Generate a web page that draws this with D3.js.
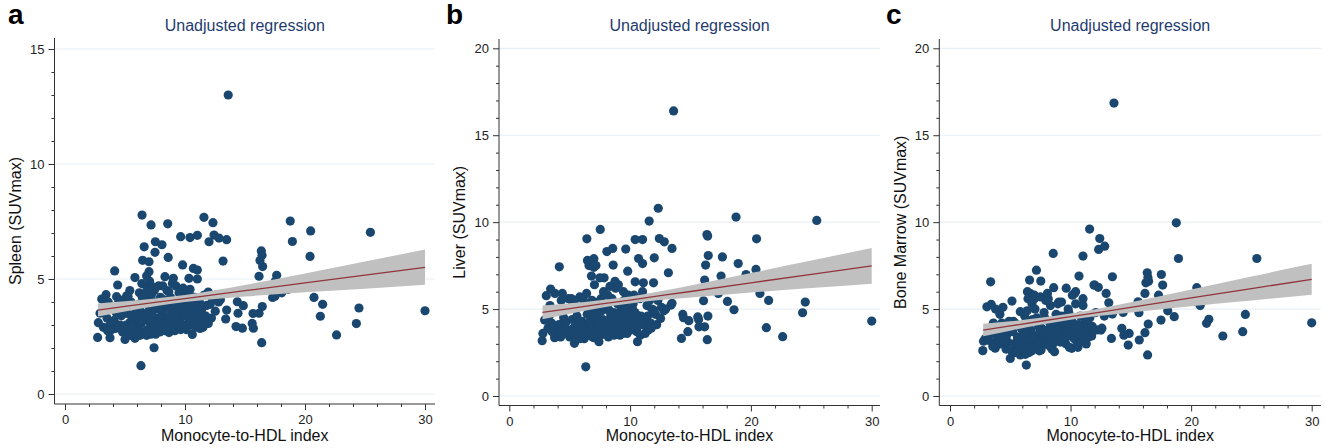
<!DOCTYPE html>
<html>
<head>
<meta charset="utf-8">
<script src="https://cdn.jsdelivr.net/npm/d3@7"></script>
<style>
  html, body { margin: 0; padding: 0; background: #fff; }
  svg { display: block; font-family: "Liberation Sans", Arial, Helvetica, sans-serif; }
</style>
</head>
<body>
<svg id="chart" width="1325" height="448"></svg>
<script>
// ---- data ----
// monocyte-to-HDL index (same patients in all three panels)
const mhrIndex = [
  13.6, 30.0, 25.45, 24.5, 24.28, 22.63, 21.47, 21.28, 20.47, 20.42,
  20.75, 19.6, 18.77, 18.95, 18.06, 18.6, 17.64, 17.53, 17.3, 17.5,
  16.36, 16.42, 16.25, 16.47, 16.17, 16.44, 16.17, 16.39, 16.08, 15.6,
  15.7, 15.67, 14.25, 14.78, 14.36, 14.86, 14.42, 13.47, 13.39, 13.17,
  13.47, 12.83, 12.42, 12.0, 11.58, 12.33, 11.03, 10.42, 9.64, 12.95,
  2.72, 2.78, 2.92, 3.06, 3.42, 3.2, 3.3, 3.5, 3.75, 3.75, 3.6, 3.78, 3.37, 3.9,
  4.14, 4.39, 4.3, 4.1, 4.2, 4.5, 4.6, 4.7, 4.8, 4.4, 4.9, 4.55,
  5.0, 5.14, 5.39, 5.2, 5.3, 5.5, 5.6, 5.7, 5.83, 5.83, 5.9, 5.4, 5.6, 5.95, 5.25,
  6.0, 6.1, 6.2, 6.33, 6.42, 6.47, 6.6, 6.3, 6.4, 6.5, 6.55, 6.7, 6.8, 6.75, 6.9, 6.85, 6.15, 6.65, 6.25, 6.95,
  7.0, 7.0, 7.17, 7.53, 7.5, 7.42, 7.1, 7.2, 7.3, 7.4, 7.6, 7.7, 7.8, 7.9, 7.25, 7.65, 7.85, 7.05, 7.45, 7.95,
  8.08, 8.56, 8.6, 8.33, 8.67, 8.1, 8.2, 8.3, 8.4, 8.5, 8.7, 8.8, 8.9, 8.45, 8.15, 8.75, 8.95, 8.25,
  9.03, 9.8, 9.1, 9.2, 9.3, 9.4, 9.5, 9.6, 9.7, 9.9, 9.25, 9.45, 9.75, 9.15, 9.55, 9.85,
  10.0, 10.1, 10.2, 10.33, 10.42, 10.44, 10.61, 10.7, 10.75, 10.8, 10.9, 11.03, 11.03, 10.55, 10.25, 10.85, 10.15,
  11.1, 11.2, 11.3, 11.4, 11.6, 11.94, 11.94, 11.7, 11.8, 11.5,
  12.1, 12.3, 12.52, 12.6, 12.8, 12.2,
  5.1, 5.45, 5.75, 6.05, 6.35, 6.6, 6.8, 7.15, 7.35, 7.55, 7.75, 8.0, 8.35, 8.55, 8.85, 9.05, 9.35, 9.65, 9.95, 10.05,
  10.3, 10.5, 10.65, 10.95, 11.25, 11.45, 11.75, 4.25, 4.65, 3.55, 5.55, 6.45, 7.35, 8.65, 9.2, 9.6, 10.4, 6.2, 7.0, 8.2
];

// spleen SUVmax
const spleen = [
  13.0, 3.62, 7.03, 3.74, 3.06, 2.57, 3.9, 3.38, 7.09, 5.98,
  4.2, 4.75, 7.52, 6.63, 4.4, 4.55, 5.16, 4.91, 4.2, 4.25,
  6.22, 6.03, 5.8, 5.54, 5.12, 3.8, 3.51, 2.23, 4.5, 3.07,
  2.86, 3.5, 2.93, 2.86, 4.01, 3.84, 3.51, 3.65, 3.26, 5.78,
  6.71, 6.78, 6.91, 6.62, 7.68, 7.45, 6.9, 6.8, 6.84, 4.1,
  2.46, 3.1, 3.51, 4.13, 4.32, 2.9, 3.7, 3.3, 2.45, 3.0, 4.0, 3.8, 3.9, 2.8,
  5.35, 4.74, 4.23, 3.2, 2.85, 3.6, 3.0, 3.4, 2.7, 3.9, 4.1, 2.95,
  2.37, 4.27, 3.1, 3.5, 2.8, 4.0, 3.3, 2.6, 5.06, 2.42, 3.7, 4.5, 3.9, 3.0, 4.25,
  3.4, 2.9, 4.4, 1.23, 7.78, 5.81, 6.4, 3.6, 4.8, 3.2, 2.7, 4.1, 5.13, 3.5, 2.8, 4.6, 3.9, 4.35, 2.55, 3.85,
  5.32, 5.75, 7.35, 6.62, 6.16, 2.01, 3.1, 4.3, 3.6, 2.9, 4.0, 3.3, 4.7, 2.7, 3.95, 3.0, 3.7, 4.9, 4.5, 4.2,
  6.49, 7.4, 5.94, 5.1, 2.67, 3.5, 4.1, 2.9, 3.8, 4.5, 3.2, 4.2, 3.6, 3.05, 4.7, 3.9, 4.8, 3.4,
  5.03, 5.61, 3.1, 4.0, 3.5, 2.9, 4.4, 3.3, 3.8, 3.0, 4.7, 3.65, 4.2, 2.75, 3.2, 4.6,
  3.4, 2.8, 4.1, 5.03, 4.55, 3.6, 2.59, 5.46, 3.2, 4.2, 3.8, 5.39, 5.0, 3.0, 3.7, 2.9, 4.4,
  3.5, 4.0, 3.1, 3.7, 4.3, 4.43, 3.07, 3.4, 3.85, 2.9,
  3.9, 4.1, 3.6, 4.3, 4.0, 3.3,
  3.0, 2.55, 3.45, 2.65, 3.05, 3.3, 2.55, 2.6, 3.25, 2.6, 3.9, 3.1, 2.75, 3.35, 2.95, 3.7, 3.15, 2.8, 3.55, 3.9,
  3.1, 3.35, 3.9, 3.3, 2.85, 3.3, 3.05, 3.55, 3.75, 2.75, 2.95, 4.2, 4.65, 4.45, 3.3, 4.05, 4.3, 3.15, 3.45, 3.65
];

// liver SUVmax
const liver = [
  16.4, 4.31, 10.1, 5.4, 4.79, 3.41, 5.5, 3.93, 9.04, 7.28,
  5.9, 6.99, 10.29, 7.62, 5.44, 4.96, 8.0, 6.9, 5.9, 6.2,
  9.29, 9.2, 7.53, 8.08, 6.67, 4.6, 3.98, 3.24, 5.48, 4.55,
  3.98, 4.4, 3.31, 3.7, 4.69, 4.33, 4.5, 5.33, 5.23, 7.09,
  8.49, 8.87, 9.06, 7.95, 10.06, 10.8, 9.0, 9.0, 8.45, 5.0,
  3.18, 3.6, 4.37, 5.77, 6.15, 3.9, 4.6, 4.2, 3.35, 3.55, 4.9, 5.9, 5.2, 3.8,
  7.43, 5.9, 5.5, 4.1, 3.7, 4.5, 4.0, 3.8, 3.6, 4.8, 5.6, 4.3,
  3.4, 5.6, 3.03, 4.4, 3.9, 5.0, 4.6, 3.5, 5.7, 3.3, 4.2, 5.5, 4.0, 3.9, 5.3,
  4.3, 3.6, 5.2, 1.68, 9.04, 7.8, 7.5, 4.0, 5.9, 3.8, 3.5, 4.6, 6.9, 4.4, 3.4, 5.5, 5.5, 7.7, 3.5, 4.9,
  7.9, 7.4, 7.5, 9.58, 6.8, 3.12, 4.1, 5.1, 4.5, 3.7, 5.6, 4.2, 6.0, 3.6, 4.7, 4.9, 6.8, 6.4, 4.2, 5.2,
  8.31, 8.49, 7.53, 6.3, 3.5, 4.3, 5.0, 3.9, 4.6, 5.6, 4.0, 6.2, 4.5, 3.8, 5.8, 6.6, 5.3, 4.9,
  6.4, 7.18, 4.0, 4.8, 4.3, 3.6, 5.5, 4.2, 4.7, 3.9, 5.1, 6.0, 3.6, 3.5, 5.2, 5.8,
  4.4, 3.9, 5.0, 5.8, 6.57, 4.0, 3.12, 7.91, 4.2, 5.6, 4.6, 7.62, 6.0, 3.7, 5.3, 3.5, 5.5,
  6.51, 4.4, 4.0, 5.2, 5.5, 6.51, 4.94, 4.2, 5.0, 3.8,
  4.7, 5.5, 4.46, 5.1, 4.9, 4.1,
  3.7, 3.6, 4.3, 3.9, 4.1, 4.2, 3.6, 3.9, 4.0, 3.5, 4.4, 3.9, 4.1, 4.3, 3.7, 4.6, 3.9, 4.0, 4.5, 3.8,
  4.3, 4.7, 4.0, 4.2, 3.6, 4.6, 3.9, 3.4, 4.2, 3.7, 3.3, 4.7, 5.4, 4.8, 4.5, 5.0, 4.8, 3.3, 3.35, 3.4
];

// bone marrow SUVmax
const marrow = [
  16.85, 4.21, 7.91, 4.69, 3.7, 3.45, 4.41, 4.18, 6.23, 5.42,
  5.2, 5.55, 9.96, 7.91, 4.9, 4.56, 6.38, 6.99, 5.8, 4.37,
  7.09, 6.82, 6.51, 6.6, 5.9, 4.14, 3.64, 2.36, 5.2, 5.42,
  3.22, 4.79, 3.89, 2.93, 4.81, 3.6, 3.5, 4.71, 3.31, 5.36,
  6.86, 8.62, 9.06, 6.38, 9.6, 8.43, 8.05, 6.0, 6.2, 5.9,
  2.61, 3.15, 3.3, 5.13, 5.27, 3.2, 3.9, 3.6, 2.75, 3.05, 4.2, 5.0, 6.57, 3.3,
  4.7, 5.1, 4.2, 3.4, 3.0, 3.8, 2.9, 3.5, 3.1, 4.0, 4.3, 3.25,
  2.16, 5.46, 2.5, 3.7, 3.0, 4.1, 3.4, 2.8, 4.85, 2.36, 3.9, 4.2, 3.2, 3.3, 4.3,
  3.5, 2.7, 4.6, 1.78, 6.0, 5.6, 6.67, 2.9, 4.9, 3.2, 2.5, 3.8, 5.3, 3.6, 2.9, 4.4, 4.0, 5.9, 2.4, 3.4,
  5.8, 5.6, 7.24, 6.61, 5.7, 2.6, 3.0, 4.5, 3.5, 2.8, 3.9, 3.3, 4.8, 3.1, 4.2, 2.9, 4.5, 5.0, 3.7, 5.5,
  5.9, 8.2, 6.23, 5.2, 2.55, 3.4, 4.3, 3.0, 3.8, 4.0, 3.5, 4.7, 3.2, 2.7, 5.6, 4.4, 5.3, 3.9,
  5.4, 5.0, 3.3, 4.1, 3.6, 3.9, 4.6, 3.0, 4.3, 2.8, 5.4, 4.0, 3.7, 3.1, 3.6, 4.8,
  3.5, 2.74, 4.2, 5.9, 5.3, 3.8, 2.8, 6.9, 3.9, 4.6, 3.4, 5.6, 5.2, 3.0, 4.0, 3.2, 5.8,
  3.9, 4.3, 2.99, 4.1, 4.5, 6.38, 3.8, 3.7, 4.0, 3.4,
  4.8, 6.25, 3.79, 3.9, 4.6, 3.8,
  2.6, 2.9, 3.1, 3.0, 3.3, 2.75, 2.6, 3.2, 3.05, 2.65, 3.6, 3.6, 3.3, 3.0, 3.7, 3.45, 3.25, 4.1, 3.85, 4.4,
  3.3, 3.6, 4.1, 3.6, 3.1, 3.55, 3.45, 3.2, 2.7, 2.85, 2.55, 4.3, 4.0, 4.2, 4.6, 3.35, 3.95, 3.6, 3.3, 2.9
];

// fitted line and 95% CI read at these x positions
const fitX = [2.75, 5, 7.5, 10, 12.5, 15, 20, 25, 30];
const spleenFit = [3.65, 3.81, 3.98, 4.15, 4.32, 4.49, 4.83, 5.17, 5.51];
const spleenLo  = [3.37, 3.59, 3.81, 4.00, 4.13, 4.24, 4.42, 4.58, 4.75];
const spleenHi  = [3.94, 4.03, 4.15, 4.30, 4.51, 4.74, 5.24, 5.76, 6.28];
const liverFit  = [4.81, 5.03, 5.28, 5.52, 5.77, 6.01, 6.51, 7.00, 7.49];
const liverLo   = [4.42, 4.73, 5.06, 5.32, 5.52, 5.67, 5.95, 6.21, 6.46];
const liverHi   = [5.20, 5.33, 5.51, 5.73, 6.02, 6.35, 7.07, 7.79, 8.52];
const marrowFit = [3.79, 4.03, 4.30, 4.57, 4.83, 5.10, 5.64, 6.18, 6.71];
const marrowLo  = [3.43, 3.76, 4.10, 4.39, 4.61, 4.81, 5.16, 5.49, 5.82];
const marrowHi  = [4.15, 4.30, 4.50, 4.75, 5.05, 5.39, 6.12, 6.87, 7.60];

const xTicks = [0, 10, 20, 30];
const xMinorTicks = [2, 4, 6, 8, 12, 14, 16, 18, 22, 24, 26, 28];
const yTicksSpleen = [0, 5, 10, 15];
const yTicksOther = [0, 5, 10, 15, 20];
const titleText = 'Unadjusted regression';
const xLabelText = 'Monocyte-to-HDL index';

// ---- colours ----
const dotColor = '#1a476f';
const bandColor = '#c0c0c0';
const lineColor = '#90353b';
const gridColor = '#e7eff4';
const titleColor = '#1f3b6e';
const axisColor = '#333';

// ---- layout per panel (pixel frame) ----
const panels = [
  { letter: 'a', letterX: 8, yLabel: 'Spleen (SUVmax)', yLabelX: 16,
    left: 54.5, right: 435, top: 38, bottom: 404, x0: 65, x30: 425, y0: 394, yTopPx: 49,
    yMax: 15, yTicks: yTicksSpleen, values: spleen, fit: spleenFit, lo: spleenLo, hi: spleenHi },
  { letter: 'b', letterX: 446, yLabel: 'Liver (SUVmax)', yLabelX: 460,
    left: 499, right: 880, top: 39, bottom: 405.5, x0: 509.3, x30: 871.7, y0: 396, yTopPx: 48.3,
    yMax: 20, yTicks: yTicksOther, values: liver, fit: liverFit, lo: liverLo, hi: liverHi },
  { letter: 'c', letterX: 886, yLabel: 'Bone Marrow (SUVmax)', yLabelX: 901,
    left: 939.3, right: 1321, top: 39, bottom: 405.5, x0: 950, x30: 1311.7, y0: 396, yTopPx: 48.3,
    yMax: 20, yTicks: yTicksOther, values: marrow, fit: marrowFit, lo: marrowLo, hi: marrowHi }
];

if (spleen.length !== mhrIndex.length || liver.length !== mhrIndex.length || marrow.length !== mhrIndex.length) {
  console.error('length mismatch', mhrIndex.length, spleen.length, liver.length, marrow.length);
}

const svg = d3.select('#chart');

function drawPanel(p) {
  const x = d3.scaleLinear().domain([0, 30]).range([p.x0, p.x30]);
  const y = d3.scaleLinear().domain([0, p.yMax]).range([p.y0, p.yTopPx]);
  const g = svg.append('g').attr('class', 'panel-' + p.letter);

  // 가로 격자선
  g.selectAll('line.grid')
    .data(p.yTicks)
    .join('line')
    .attr('class', 'grid')
    .attr('x1', p.left).attr('x2', p.right)
    .attr('y1', d => y(d)).attr('y2', d => y(d))
    .attr('stroke', gridColor)
    .attr('stroke-width', 1.2);

  // scatter
  const pts = mhrIndex.map((v, i) => ({ x: v, y: p.values[i] }));
  g.selectAll('circle.dot')
    .data(pts)
    .join('circle')
    .attr('class', 'dot')
    .attr('cx', d => x(d.x))
    .attr('cy', d => y(d.y))
    .attr('r', 4.6)
    .attr('fill', dotColor);

  // CI band, drawn over the points as in the original
  const area = d3.area()
    .x((d, i) => x(fitX[i]))
    .y0((d, i) => y(p.lo[i]))
    .y1((d, i) => y(p.hi[i]))
    .curve(d3.curveMonotoneX);
  g.append('path').datum(fitX).attr('d', area).attr('fill', bandColor);

  const line = d3.line()
    .x((d, i) => x(fitX[i]))
    .y((d, i) => y(p.fit[i]));
  g.append('path').datum(fitX).attr('d', line)
    .attr('fill', 'none').attr('stroke', lineColor).attr('stroke-width', 1.3);

  // axes (domain lines drawn by hand so they span the whole frame)
  const xAxisG = g.append('g').attr('transform', `translate(0,${p.bottom})`);
  xAxisG.call(d3.axisBottom(x).tickValues(xTicks).tickSize(6).tickPadding(5).tickFormat(d3.format('d')));
  xAxisG.append('g').call(d3.axisBottom(x).tickValues(xMinorTicks).tickSize(3).tickFormat(''));

  const yMinor = d3.range(1, p.yMax).filter(v => v % 5 !== 0);
  const yAxisG = g.append('g').attr('transform', `translate(${p.left},0)`);
  yAxisG.call(d3.axisLeft(y).tickValues(p.yTicks).tickSize(6).tickPadding(4).tickFormat(d3.format('d')));
  yAxisG.append('g').call(d3.axisLeft(y).tickValues(yMinor).tickSize(3).tickFormat(''));

  g.selectAll('.domain').remove();
  g.selectAll('.tick line').attr('stroke', axisColor);
  g.selectAll('.tick text').attr('fill', '#222').style('font-size', '13px')
    .style('font-family', '"Liberation Sans", Arial, Helvetica, sans-serif');

  g.append('line').attr('x1', p.left).attr('x2', p.right).attr('y1', p.bottom).attr('y2', p.bottom)
    .attr('stroke', axisColor);
  g.append('line').attr('x1', p.left).attr('x2', p.left).attr('y1', p.top).attr('y2', p.bottom)
    .attr('stroke', axisColor);

  const cx = (p.left + p.right) / 2;
  // title
  g.append('text').attr('x', cx).attr('y', 31).attr('text-anchor', 'middle')
    .attr('fill', titleColor).style('font-size', '16px').text(titleText);
  // x label
  g.append('text').attr('x', cx).attr('y', 441).attr('text-anchor', 'middle')
    .attr('fill', '#111').style('font-size', '16px').text(xLabelText);
  // y label
  const cy = (p.top + p.bottom) / 2;
  g.append('text')
    .attr('transform', `translate(${p.yLabelX + 5},${cy}) rotate(-90)`)
    .attr('text-anchor', 'middle')
    .attr('fill', '#111').style('font-size', '16px').text(p.yLabel);
  // panel letter
  g.append('text').attr('x', p.letterX).attr('y', 24)
    .attr('fill', '#000').style('font-size', '28px').style('font-weight', 'bold').text(p.letter);
}

panels.forEach(drawPanel);
</script>
</body>
</html>
